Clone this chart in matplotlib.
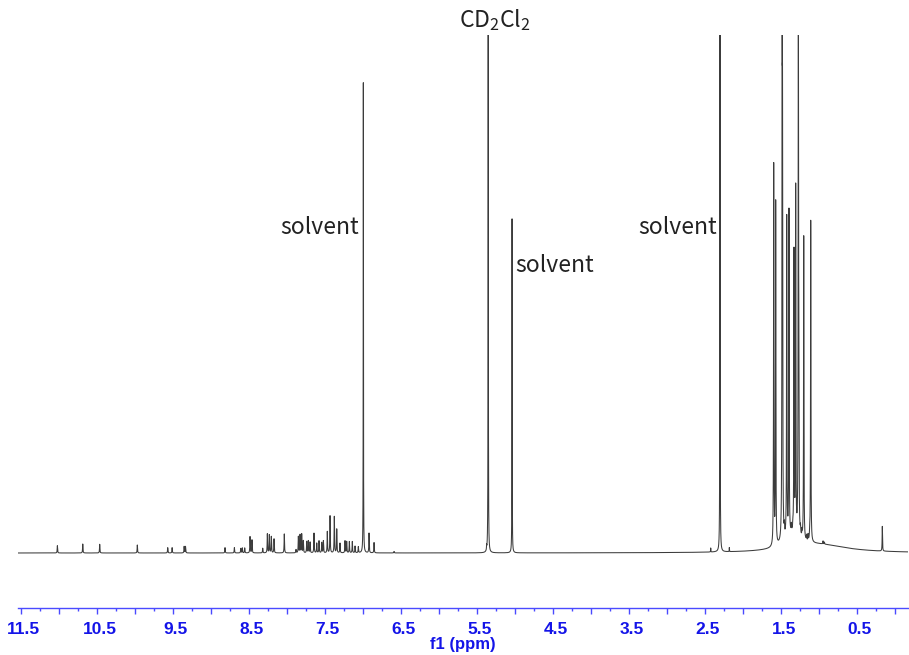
import numpy as np
import matplotlib
matplotlib.use("Agg")
import matplotlib.pyplot as plt
import matplotlib.transforms as mtransforms

# ---- data (chemical shift in ppm, relative intensity) ----
arom_ppm = [11.018, 10.684, 10.461, 9.966, 9.566, 9.508, 9.350, 9.332, 8.812, 8.689,
            8.605, 8.585, 8.553, 8.483, 8.457, 8.316, 8.255, 8.229, 8.203, 8.167,
            8.032, 7.878, 7.847, 7.825, 7.803, 7.782, 7.737, 7.716, 7.693, 7.641,
            7.605, 7.575, 7.539, 7.518, 7.466, 7.430, 7.374, 7.342, 7.299, 7.233,
            7.211, 7.176, 7.137, 7.101, 7.058, 6.917, 6.851, 6.588]
arom_int = [7.3, 9.0, 8.7, 8.0, 5.3, 5.3, 6.5, 6.5, 5.3, 5.3,
            4.5, 5.0, 5.0, 16.3, 13.0, 4.7, 19.0, 18.0, 16.3, 14.0,
            19.0, 3.3, 16.3, 18.0, 18.7, 12.0, 11.3, 12.0, 10.7, 19.7,
            9.7, 12.0, 10.3, 12.0, 21.3, 37.0, 36.3, 23.7, 9.7, 12.0,
            11.3, 11.3, 11.3, 6.7, 6.0, 19.7, 10.3, 1.5]

solv_ppm = [6.992, 5.349, 5.370, 5.035, 2.421, 2.299, 2.176]
solv_int = [471.0, 760.0, 4.0, 334.0, 4.0, 760.0, 4.0]

aliph_ppm = [1.592, 1.566, 1.481, 1.476, 1.452, 1.421, 1.391, 1.360, 1.340, 1.325,
             1.303, 1.268, 1.262, 1.240, 1.220, 1.197, 1.160, 1.140, 1.120, 1.105,
             0.943, 0.925, 0.163]
aliph_int = [381.0, 342.0, 600.0, 330.0, 9.0, 320.0, 325.0, 7.0, 6.0, 281.0,
             345.0, 570.0, 151.0, 7.0, 6.0, 304.0, 5.0, 6.0, 4.0, 322.0,
             3.0, 2.0, 24.7]

# broad baseline humps under the aliphatic envelope (center, half-width, height)
hump_ppm = [1.00, 1.35]
hump_hw = [0.45, 0.12]
hump_int = [8.0, 12.0]

tick_labels = ["11.5", "10.5", "9.5", "8.5", "7.5", "6.5", "5.5", "4.5", "3.5", "2.5", "1.5", "0.5"]

# ---- build spectrum ----
x_left, x_right = 11.536, -0.175
x = np.linspace(x_left, x_right, 80000)
y = np.zeros_like(x)


def lor(c, h, w):
    return h * w * w / ((x - c) ** 2 + w * w)


for c, h in zip(arom_ppm, arom_int):
    y += lor(c, h, 0.0030)
for c, h in zip(solv_ppm, solv_int):
    y += lor(c, h, 0.0017)
for c, h in zip(aliph_ppm, aliph_int):
    y += lor(c, h, 0.0027)
for c, w, h in zip(hump_ppm, hump_hw, hump_int):
    y += lor(c, h, w)

# ---- figure ----
fig = plt.figure(figsize=(9.09, 6.55), dpi=100)
ax = fig.add_axes([18 / 909, 1 - 608 / 655, (908 - 18) / 909, (608 - 35) / 655])
ax.plot(x, y, color="#3c3c3c", lw=0.75)
ax.set_xlim(x_left, x_right)
ax.set_ylim(-55, 518)

for s in ["top", "left", "right"]:
    ax.spines[s].set_visible(False)
ax.spines["bottom"].set_color("#4a4aff")
ax.spines["bottom"].set_linewidth(1.0)
ax.set_yticks([])

majors = np.arange(0.0, 11.51, 0.5)
ax.set_xticks(majors)
ax.set_xticklabels([tick_labels[int(round(11.5 - v))] if (v * 2) % 2 == 1 else "" for v in majors])
ax.set_xticks(np.arange(0.25, 11.5, 0.5), minor=True)
ax.tick_params(axis="x", which="major", direction="out", length=4, width=1.0,
               color="#4a4aff", pad=6, labelsize=12.5, labelcolor="#1414e8")
ax.tick_params(axis="x", which="minor", direction="out", length=2.5, width=1.0,
               color="#4a4aff")
offset = mtransforms.ScaledTranslation(3 / 100, 0, fig.dpi_scale_trans)
for lab in ax.get_xticklabels():
    lab.set_fontfamily("Liberation Sans")
    lab.set_fontweight("bold")
    lab.set_transform(lab.get_transform() + offset)

ax.set_xlabel("f1 (ppm)", fontsize=12, fontweight="bold", color="#1414e8",
              family="Liberation Sans", labelpad=0)

# ---- annotations ----
plt.rcParams["mathtext.fontset"] = "custom"
plt.rcParams["mathtext.rm"] = "Noto Sans CJK SC"
lab_font = dict(family=["Noto Sans CJK SC", "DejaVu Sans"], fontsize=16.5, color="#222222")
ax.text(7.045, 326, "solvent", ha="right", va="center", clip_on=False, **lab_font)
ax.text(4.996, 287, "solvent", ha="left", va="center", clip_on=False, **lab_font)
ax.text(2.337, 326, "solvent", ha="right", va="center", clip_on=False, **lab_font)
ax.text(5.265, 526, r"CD$_\mathrm{2}$Cl$_\mathrm{2}$", ha="center", va="baseline",
        clip_on=False, **lab_font)

fig.savefig("out.png", dpi=100)
